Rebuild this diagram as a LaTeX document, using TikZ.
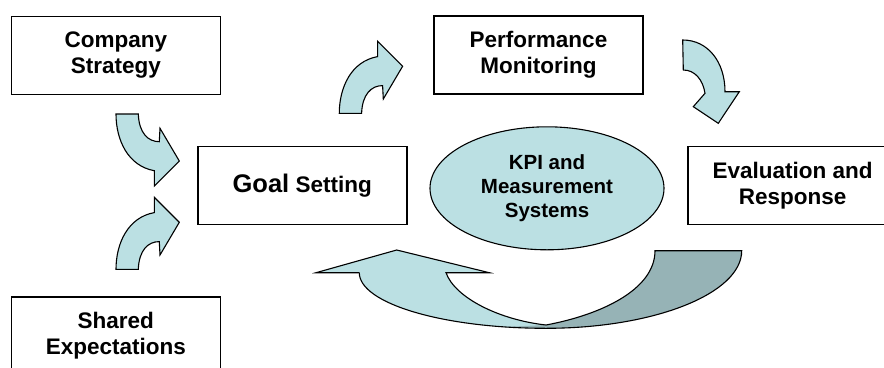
\documentclass[tikz,border=0pt]{standalone}
\usepackage{fontspec}
\setmainfont{Liberation Sans}
\usetikzlibrary{shapes.geometric}
\definecolor{lightfill}{RGB}{187,224,227}
\definecolor{darkfill}{RGB}{150,179,182}
\newcommand{\upArrowPath}{(116,269.3) -- (138.3,269.3) .. controls (139,250.3) and (148,241.6) .. (159.3,241.6) -- (160,255) -- (179.3,222.3) -- (154.3,197.3) -- (154.3,212.6) .. controls (128,217.3) and (116,243.3) .. (116,269.3) -- cycle}
\begin{document}
\begin{tikzpicture}[x=1pt,y=-1pt,
  box/.style={draw=black, line width=1.6pt, fill=white, minimum width=209pt, minimum height=78pt, inner sep=0pt, align=center, font=\fontsize{22.5}{26}\selectfont\bfseries},
  kpistyle/.style={ellipse, draw=black, line width=1.1pt, fill=lightfill, minimum width=234pt, minimum height=123pt, inner sep=0pt, align=center, font=\fontsize{20.5}{24}\selectfont\bfseries},
  blockarrow/.style={draw=black, line width=1.1pt, fill=lightfill, line join=miter},
  outl/.style={draw=black, line width=1.1pt, line join=miter}
]
\useasboundingbox (0,0) rectangle (884,367);
\fill[white] (0,0) rectangle (884,367);

% boxes
\node[box] (company) at (115.8,55.3) {Company\\Strategy};
\node[box] (goal) at (302.2,185.5) {{\fontsize{25.5}{28}\selectfont Goal} Setting};
\node[box] (perf) at (538.5,55.2) {Performance\\Monitoring};
\node[box] (eval) at (792.7,185.5) {Evaluation and\\Response};
\node[box] (shared) at (115.8,335.7) {Shared\\Expectations};
\node[kpistyle] (kpi) at (547,188.3) {KPI and\\Measurement\\Systems};

% curved block arrows
\draw[blockarrow] (116,114) -- (138.3,114) .. controls (139,133) and (148,141.7) .. (159.3,141.7) -- (160,128.3) -- (179.3,161) -- (154.3,186) -- (154.3,170.7) .. controls (128,166) and (116,140) .. (116,114) -- cycle;
\draw[blockarrow] \upArrowPath;
\begin{scope}[shift={(223.3,-156)}]
\draw[blockarrow] \upArrowPath;
\end{scope}
\draw[blockarrow] (682.7,40) .. controls (708,40) and (725,62) .. (725,91.7) -- (739.3,91.7) -- (718.3,123.3) -- (693.3,106.7) -- (705,93.3) .. controls (703,80) and (695,70) .. (683.3,70) -- cycle;

% big curved return arrow
\fill[lightfill] (359.3,272.7) -- (316,272.7) -- (396.7,250) -- (489.3,272.7) -- (446,272.7) .. controls (455,298) and (500,320) .. (546,325) -- (546,328.3) .. controls (442.9,328.3) and (359.3,303.4) .. (359.3,272.7) -- cycle;
\fill[darkfill] (655,250.7) -- (741.7,250.7) .. controls (741.7,293.6) and (654.1,328.3) .. (546,328.3) -- (503,327) -- (546,325) .. controls (600,315) and (655,290) .. (655,250.7) -- cycle;
\draw[outl] (359.3,272.7) -- (316,272.7) -- (396.7,250) -- (489.3,272.7) -- (446,272.7) .. controls (455,298) and (500,320) .. (546,325);
\draw[outl] (546,325) .. controls (600,315) and (655,290) .. (655,250.7) -- (741.7,250.7) .. controls (741.7,293.6) and (654.1,328.3) .. (546,328.3) .. controls (442.9,328.3) and (359.3,303.4) .. (359.3,272.7);
\end{tikzpicture}
\end{document}
